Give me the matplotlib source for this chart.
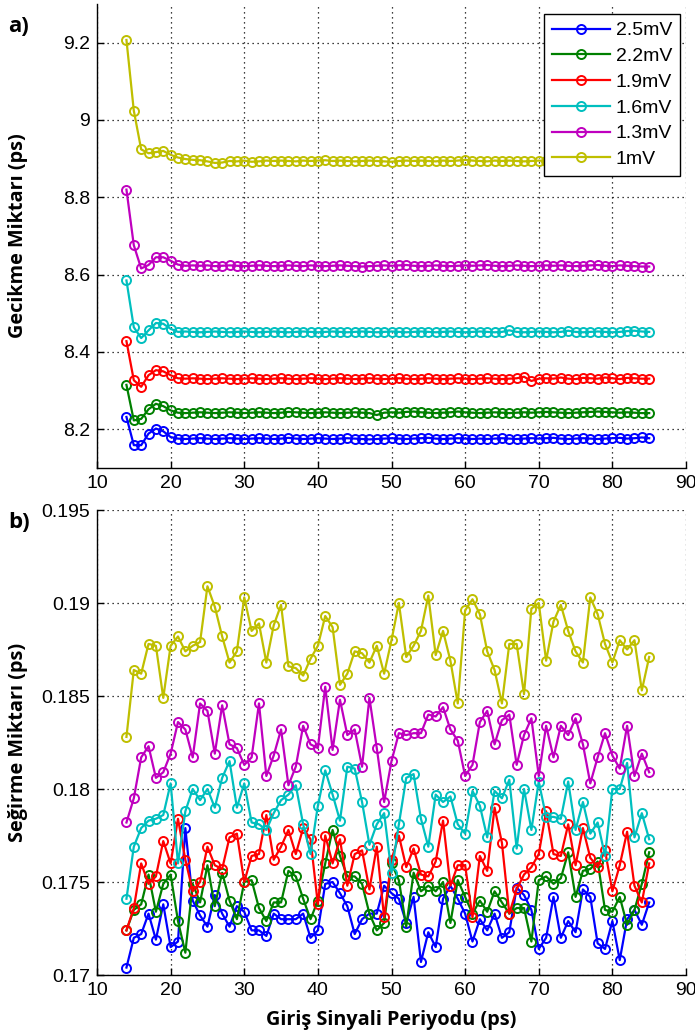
import matplotlib
matplotlib.use("Agg")
import matplotlib.pyplot as plt

# ---------------- data ----------------
period = list(range(14, 86))  # Giriş sinyali periyodu (ps)

labels = ["2.5mV", "2.2mV", "1.9mV", "1.6mV", "1.3mV", "1mV"]
colors = ["#0000ff", "#008000", "#ff0000", "#00bfbf", "#bf00bf", "#bfbf00"]

# a) Gecikme Miktarı (ps)
delay_25 = [8.232, 8.159, 8.159, 8.189, 8.202, 8.195, 8.180, 8.176, 8.175, 8.176,
            8.177, 8.176, 8.175, 8.176, 8.177, 8.176, 8.175, 8.176, 8.177, 8.176,
            8.175, 8.176, 8.178, 8.176, 8.175, 8.176, 8.177, 8.176, 8.175, 8.176,
            8.177, 8.176, 8.175, 8.174, 8.175, 8.176, 8.177, 8.176, 8.175, 8.176,
            8.177, 8.178, 8.176, 8.175, 8.176, 8.177, 8.176, 8.175, 8.176, 8.175,
            8.176, 8.177, 8.176, 8.175, 8.176, 8.177, 8.176, 8.177, 8.178, 8.176,
            8.175, 8.176, 8.177, 8.176, 8.175, 8.176, 8.177, 8.178, 8.176, 8.177,
            8.179, 8.177]
delay_22 = [8.315, 8.223, 8.227, 8.252, 8.266, 8.260, 8.249, 8.243, 8.242, 8.243,
            8.244, 8.243, 8.242, 8.243, 8.244, 8.243, 8.242, 8.243, 8.244, 8.243,
            8.242, 8.243, 8.245, 8.244, 8.243, 8.242, 8.243, 8.244, 8.243, 8.242,
            8.243, 8.244, 8.243, 8.242, 8.237, 8.243, 8.244, 8.243, 8.245, 8.246,
            8.244, 8.243, 8.242, 8.243, 8.244, 8.246, 8.244, 8.243, 8.242, 8.243,
            8.244, 8.243, 8.242, 8.243, 8.244, 8.243, 8.244, 8.245, 8.244, 8.243,
            8.242, 8.243, 8.244, 8.245, 8.246, 8.245, 8.244, 8.243, 8.244, 8.243,
            8.242, 8.242]
delay_19 = [8.428, 8.327, 8.310, 8.340, 8.353, 8.350, 8.340, 8.332, 8.331, 8.332,
            8.331, 8.330, 8.331, 8.332, 8.331, 8.330, 8.331, 8.332, 8.331, 8.330,
            8.331, 8.332, 8.331, 8.330, 8.331, 8.332, 8.331, 8.330, 8.331, 8.332,
            8.331, 8.330, 8.331, 8.332, 8.331, 8.330, 8.331, 8.332, 8.331, 8.330,
            8.331, 8.332, 8.331, 8.330, 8.331, 8.332, 8.331, 8.330, 8.331, 8.332,
            8.331, 8.330, 8.331, 8.332, 8.336, 8.325, 8.331, 8.332, 8.331, 8.334,
            8.331, 8.330, 8.333, 8.332, 8.331, 8.334, 8.332, 8.330, 8.333, 8.332,
            8.331, 8.331]
delay_16 = [8.585, 8.464, 8.436, 8.456, 8.475, 8.473, 8.460, 8.452, 8.453, 8.452,
            8.451, 8.452, 8.453, 8.452, 8.451, 8.452, 8.453, 8.452, 8.451, 8.452,
            8.453, 8.452, 8.451, 8.452, 8.453, 8.452, 8.451, 8.452, 8.453, 8.452,
            8.451, 8.452, 8.453, 8.452, 8.451, 8.452, 8.453, 8.452, 8.451, 8.452,
            8.453, 8.452, 8.451, 8.452, 8.453, 8.452, 8.451, 8.452, 8.453, 8.452,
            8.451, 8.452, 8.456, 8.452, 8.451, 8.452, 8.453, 8.452, 8.451, 8.452,
            8.455, 8.452, 8.451, 8.452, 8.453, 8.452, 8.451, 8.452, 8.454, 8.455,
            8.453, 8.452]
delay_13 = [8.820, 8.676, 8.616, 8.625, 8.645, 8.645, 8.636, 8.626, 8.623, 8.624,
            8.623, 8.624, 8.622, 8.623, 8.624, 8.623, 8.622, 8.623, 8.624, 8.623,
            8.622, 8.623, 8.624, 8.623, 8.622, 8.624, 8.623, 8.622, 8.623, 8.624,
            8.623, 8.622, 8.621, 8.622, 8.623, 8.624, 8.623, 8.624, 8.625, 8.623,
            8.622, 8.623, 8.624, 8.623, 8.622, 8.623, 8.624, 8.623, 8.624, 8.625,
            8.623, 8.622, 8.623, 8.624, 8.623, 8.622, 8.623, 8.624, 8.623, 8.624,
            8.623, 8.622, 8.623, 8.624, 8.625, 8.623, 8.622, 8.624, 8.623, 8.622,
            8.621, 8.621]
delay_10 = [9.207, 9.024, 8.924, 8.914, 8.917, 8.920, 8.910, 8.903, 8.899, 8.897,
            8.896, 8.893, 8.889, 8.890, 8.894, 8.893, 8.895, 8.892, 8.893, 8.895,
            8.894, 8.895, 8.894, 8.893, 8.895, 8.894, 8.895, 8.896, 8.894, 8.895,
            8.894, 8.893, 8.894, 8.895, 8.894, 8.893, 8.892, 8.894, 8.895, 8.894,
            8.895, 8.894, 8.893, 8.895, 8.894, 8.895, 8.897, 8.895, 8.894, 8.893,
            8.895, 8.894, 8.895, 8.894, 8.893, 8.894, 8.895, 8.894, 8.893, 8.894,
            8.895, 8.894, 8.893, 8.894, 8.895, 8.894, 8.893, 8.894, 8.895, 8.894,
            8.893, 8.894]

# b) Seğirme Miktarı (ps)
jitter_25 = [0.1704, 0.1720, 0.1722, 0.1733, 0.1719, 0.1738, 0.1715, 0.1718, 0.1779, 0.1740,
             0.1732, 0.1726, 0.1743, 0.1733, 0.1726, 0.1737, 0.1734, 0.1724, 0.1724, 0.1721,
             0.1733, 0.1730, 0.1730, 0.1730, 0.1733, 0.1720, 0.1724, 0.1749, 0.1750, 0.1744,
             0.1737, 0.1722, 0.1730, 0.1733, 0.1733, 0.1748, 0.1744, 0.1741, 0.1728, 0.1742,
             0.1707, 0.1723, 0.1715, 0.1741, 0.1748, 0.1741, 0.1733, 0.1718, 0.1730, 0.1724,
             0.1733, 0.1720, 0.1723, 0.1747, 0.1743, 0.1735, 0.1714, 0.1720, 0.1742, 0.1720,
             0.1729, 0.1723, 0.1746, 0.1742, 0.1717, 0.1714, 0.1729, 0.1708, 0.1730, 0.1735,
             0.1727, 0.1739]
jitter_22 = [0.1724, 0.1735, 0.1738, 0.1754, 0.1734, 0.1749, 0.1754, 0.1729, 0.1712, 0.1749,
             0.1739, 0.1759, 0.1737, 0.1755, 0.1740, 0.1730, 0.1750, 0.1751, 0.1736, 0.1729,
             0.1739, 0.1739, 0.1756, 0.1753, 0.1741, 0.1730, 0.1740, 0.1760, 0.1778, 0.1764,
             0.1753, 0.1753, 0.1749, 0.1733, 0.1724, 0.1728, 0.1760, 0.1751, 0.1726, 0.1755,
             0.1745, 0.1748, 0.1745, 0.1750, 0.1728, 0.1751, 0.1742, 0.1733, 0.1740, 0.1734,
             0.1745, 0.1739, 0.1733, 0.1736, 0.1736, 0.1718, 0.1751, 0.1753, 0.1749, 0.1752,
             0.1766, 0.1742, 0.1756, 0.1757, 0.1761, 0.1735, 0.1734, 0.1742, 0.1727, 0.1735,
             0.1749, 0.1766]
jitter_19 = [0.1724, 0.1736, 0.1760, 0.1749, 0.1753, 0.1772, 0.1760, 0.1784, 0.1762, 0.1745,
             0.1750, 0.1769, 0.1759, 0.1757, 0.1774, 0.1776, 0.1750, 0.1764, 0.1765, 0.1786,
             0.1762, 0.1769, 0.1778, 0.1765, 0.1779, 0.1773, 0.1738, 0.1775, 0.1760, 0.1773,
             0.1748, 0.1765, 0.1767, 0.1746, 0.1769, 0.1731, 0.1762, 0.1775, 0.1758, 0.1768,
             0.1754, 0.1753, 0.1761, 0.1783, 0.1748, 0.1759, 0.1759, 0.1731, 0.1764, 0.1756,
             0.1790, 0.1771, 0.1733, 0.1746, 0.1754, 0.1758, 0.1765, 0.1788, 0.1765, 0.1764,
             0.1781, 0.1759, 0.1779, 0.1763, 0.1758, 0.1767, 0.1745, 0.1759, 0.1777, 0.1748,
             0.1739, 0.1760]
jitter_16 = [0.1741, 0.1769, 0.1779, 0.1783, 0.1784, 0.1786, 0.1803, 0.1760, 0.1788, 0.1800,
             0.1794, 0.1800, 0.1790, 0.1806, 0.1815, 0.1790, 0.1803, 0.1782, 0.1781, 0.1778,
             0.1787, 0.1794, 0.1797, 0.1802, 0.1781, 0.1765, 0.1791, 0.1810, 0.1797, 0.1783,
             0.1812, 0.1811, 0.1793, 0.1770, 0.1781, 0.1787, 0.1755, 0.1781, 0.1806, 0.1808,
             0.1784, 0.1769, 0.1797, 0.1793, 0.1796, 0.1781, 0.1776, 0.1799, 0.1791, 0.1774,
             0.1799, 0.1795, 0.1805, 0.1768, 0.1800, 0.1778, 0.1804, 0.1785, 0.1785, 0.1784,
             0.1804, 0.1778, 0.1793, 0.1776, 0.1782, 0.1764, 0.1800, 0.1800, 0.1814, 0.1774,
             0.1787, 0.1773]
jitter_13 = [0.1782, 0.1795, 0.1817, 0.1823, 0.1806, 0.1809, 0.1819, 0.1836, 0.1832, 0.1817,
             0.1846, 0.1842, 0.1819, 0.1845, 0.1824, 0.1822, 0.1813, 0.1817, 0.1846, 0.1807,
             0.1818, 0.1832, 0.1802, 0.1812, 0.1834, 0.1824, 0.1822, 0.1855, 0.1821, 0.1848,
             0.1829, 0.1832, 0.1812, 0.1849, 0.1822, 0.1793, 0.1815, 0.1830, 0.1829, 0.1830,
             0.1830, 0.1840, 0.1839, 0.1844, 0.1832, 0.1826, 0.1807, 0.1813, 0.1836, 0.1842,
             0.1824, 0.1837, 0.1840, 0.1813, 0.1829, 0.1838, 0.1807, 0.1834, 0.1817, 0.1834,
             0.1829, 0.1838, 0.1824, 0.1803, 0.1817, 0.1830, 0.1818, 0.1811, 0.1834, 0.1807,
             0.1819, 0.1809]
jitter_10 = [0.1828, 0.1864, 0.1862, 0.1878, 0.1877, 0.1849, 0.1877, 0.1882, 0.1874, 0.1877,
             0.1879, 0.1909, 0.1898, 0.1882, 0.1868, 0.1874, 0.1903, 0.1885, 0.1889, 0.1868,
             0.1888, 0.1899, 0.1866, 0.1865, 0.1861, 0.1870, 0.1877, 0.1893, 0.1887, 0.1856,
             0.1862, 0.1874, 0.1873, 0.1868, 0.1877, 0.1862, 0.1880, 0.1900, 0.1871, 0.1877,
             0.1885, 0.1904, 0.1872, 0.1885, 0.1869, 0.1846, 0.1896, 0.1902, 0.1894, 0.1874,
             0.1864, 0.1846, 0.1878, 0.1878, 0.1851, 0.1897, 0.1900, 0.1869, 0.1890, 0.1899,
             0.1885, 0.1874, 0.1868, 0.1903, 0.1894, 0.1878, 0.1868, 0.1880, 0.1875, 0.1880,
             0.1853, 0.1871]

x_ticks = [10, 20, 30, 40, 50, 60, 70, 80, 90]
delay_ticks = [8.2, 8.4, 8.6, 8.8, 9.0, 9.2]
delay_ticklabels = ["8.2", "8.4", "8.6", "8.8", "9", "9.2"]
jitter_ticks = [0.17, 0.175, 0.18, 0.185, 0.19, 0.195]
jitter_ticklabels = ["0.17", "0.175", "0.18", "0.185", "0.19", "0.195"]

delay_series = [delay_25, delay_22, delay_19, delay_16, delay_13, delay_10]
jitter_series = [jitter_25, jitter_22, jitter_19, jitter_16, jitter_13, jitter_10]

# ---------------- figure ----------------
W, H = 695, 1036
fig = plt.figure(figsize=(W / 100, H / 100), dpi=100)
tick_font = "Liberation Sans"
label_font = ["Open Sans", "DejaVu Sans"]

def px_axes(left, top, right, bottom):
    return fig.add_axes([left / W, 1 - bottom / H, (right - left) / W, (bottom - top) / H])

ax1 = px_axes(97, 4, 686, 468)
ax2 = px_axes(97, 510, 686, 975)

line_kw = dict(marker="o", markerfacecolor="none", markersize=6.5,
               markeredgewidth=1.4, linewidth=1.6)

for ys, c, lab in zip(delay_series, colors, labels):
    ax1.plot(period, ys, color=c, label=lab, **line_kw)
for ys, c, lab in zip(jitter_series, colors, labels):
    ax2.plot(period, ys, color=c, label=lab, **line_kw)

def style(ax, yticks, yticklabels, ylim):
    ax.set_xlim(10, 90)
    ax.set_ylim(*ylim)
    ax.set_xticks(x_ticks)
    ax.set_xticklabels([str(t) for t in x_ticks], fontfamily=tick_font, fontsize=14)
    ax.set_yticks(yticks)
    ax.set_yticklabels(yticklabels, fontfamily=tick_font, fontsize=14)
    ax.spines["top"].set_visible(False)
    ax.spines["right"].set_visible(False)
    for s in ("left", "bottom"):
        ax.spines[s].set_linewidth(1.0)
        ax.spines[s].set_color("black")
    ax.tick_params(direction="in", length=5, width=1, colors="black", pad=5)
    ax.grid(True, color="black", linestyle=(0, (1, 3)), linewidth=0.9)
    ax.set_axisbelow(True)

style(ax1, delay_ticks, delay_ticklabels, (8.1, 9.3))
style(ax2, jitter_ticks, jitter_ticklabels, (0.17, 0.195))

lab_size = 14.3
ax1.set_ylabel("Gecikme Miktarı (ps)", fontfamily=label_font, fontweight="bold", fontsize=lab_size)
ax1.yaxis.set_label_coords((18 - 97) / 589, 0.5)
ax2.set_ylabel("Seğirme Miktarı (ps)", fontfamily=label_font, fontweight="bold", fontsize=lab_size)
ax2.yaxis.set_label_coords((18 - 97) / 589, 0.5)
ax2.set_xlabel("Giriş Sinyali Periyodu (ps)", fontfamily=label_font, fontweight="bold", fontsize=lab_size)
ax2.xaxis.set_label_coords((391 - 97) / 589, (975 - 1020) / 465)
ax2.xaxis.label.set_va("center")
ax1.yaxis.label.set_va("center")
ax2.yaxis.label.set_va("center")

fig.text(8 / W, 1 - 26 / H, "a)", fontfamily=label_font, fontweight="bold", fontsize=16, va="center")
fig.text(8 / W, 1 - 522 / H, "b)", fontfamily=label_font, fontweight="bold", fontsize=16, va="center")

leg = ax1.legend(loc="upper right", bbox_to_anchor=((680 - 97) / 589, (468 - 14) / 464),
                 borderaxespad=0, frameon=True, fancybox=False, framealpha=1,
                 edgecolor="black", handlelength=3.0, labelspacing=0.42,
                 handletextpad=0.3, borderpad=0.4,
                 prop={"family": tick_font, "size": 14})
leg.get_frame().set_linewidth(1.0)

fig.savefig("out.png", dpi=100, facecolor="white")
